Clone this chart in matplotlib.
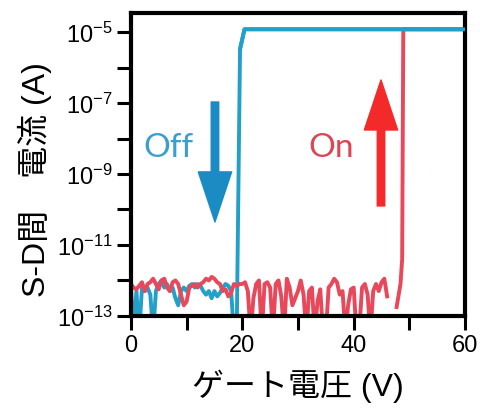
import numpy as np
import matplotlib
matplotlib.use("Agg")
import matplotlib.pyplot as plt
from matplotlib.ticker import FuncFormatter

# gate voltage steps (V) and log10 of S-D current (A)
v_red = [0.0, 0.5, 1.0, 1.5, 2.0, 2.5, 3.0, 3.5, 4.0, 4.5, 5.0, 5.5, 6.0, 6.5, 7.0, 7.5,
         8.0, 8.5, 9.0, 9.5, 10.0, 10.5, 11.0, 11.5, 12.0, 12.5, 13.0, 13.5, 14.0, 14.5,
         15.0, 15.5, 16.0, 16.5, 17.0, 17.5, 18.0, 18.5, 19.0, 19.5, 20.0, 20.5, 21.0,
         21.5, 22.0, 22.5, 23.0, 23.5, 24.0, 24.5, 25.0, 25.5, 26.0, 26.5, 27.0, 27.5,
         28.0, 28.5, 29.0, 29.5, 30.0, 30.5, 31.0, 31.5, 32.0, 32.5, 33.0, 33.5, 34.0,
         34.5, 35.0, 35.5, 36.0, 36.5, 37.0, 37.5, 38.0, 38.5, 39.0, 39.5, 40.0, 40.5,
         41.0, 41.5, 42.0, 42.5, 43.0, 43.5, 44.0, 44.5, 45.0, 45.5, 46.0]
log_i_red = [-12.10, -12.20, -12.25, -12.15, -12.05, -12.30, -12.10, -12.05, -11.95, -12.10,
             -12.25, -12.00, -11.95, -12.20, -12.30, -12.05, -12.00, -12.10, -12.40, -12.70,
             -12.60, -12.20, -12.15, -12.10, -12.20, -12.10, -12.05, -11.95, -12.00, -11.90,
             -11.95, -12.05, -12.10, -12.30, -12.25, -12.45, -12.35, -12.10, -12.15, -12.10,
             -12.10, -12.05, -12.30, -13.50, -12.50, -12.10, -12.00, -13.50, -12.10, -12.05,
             -12.20, -13.50, -12.10, -12.00, -12.45, -13.50, -11.95, -12.20, -12.70, -12.50,
             -12.30, -12.00, -12.40, -13.50, -12.30, -12.20, -13.50, -12.60, -12.25, -13.50,
             -13.50, -12.20, -12.10, -11.95, -12.05, -12.40, -12.30, -13.50, -12.70, -12.25,
             -12.20, -13.50, -13.40, -12.20, -12.10, -12.40, -13.50, -12.30, -12.10, -12.30,
             -12.05, -11.95, -12.45]
v_red_on = [47.7, 48.4, 48.7, 48.9, 60.0]
log_i_red_on = [-12.75, -12.10, -11.40, -4.92, -4.92]

v_blue = [0.0, 0.5, 1.0, 1.5, 2.0, 2.5, 3.0, 3.5, 4.0, 4.5, 5.0, 5.5, 6.0, 6.5, 7.0, 7.5,
          8.0, 8.5, 9.0, 9.5, 10.0, 10.5, 11.0, 11.5, 12.0, 12.5, 13.0, 13.5, 14.0, 14.5,
          15.0, 15.5, 16.0, 16.5, 17.0, 17.5, 18.0, 18.5, 19.0, 19.6, 20.4, 60.0]
log_i_blue = [-12.10, -13.50, -12.30, -13.50, -12.20, -12.30, -12.20, -12.40, -13.50, -12.30,
              -12.10, -12.00, -12.20, -12.10, -12.30, -12.20, -12.50, -12.70, -12.30, -12.20,
              -12.30, -12.15, -12.10, -12.20, -12.10, -12.15, -12.30, -12.40, -12.30, -12.50,
              -12.30, -12.45, -12.35, -12.20, -12.10, -12.15, -12.30, -13.50, -13.50, -5.48,
              -4.92, -4.92]

xticks_major = [0, 20, 40, 60]
xticks_minor = [10, 30, 50]
yexp_major = [-13, -11, -9, -7, -5]
yexp_minor = [-12, -10, -8, -6]

RED = "#e8485a"
BLUE = "#22a0c8"
LATIN = ["Liberation Sans", "Noto Sans CJK JP"]

plt.rcParams["font.family"] = LATIN
plt.rcParams["mathtext.default"] = "regular"

fig = plt.figure(figsize=(4.81, 4.10), dpi=100)
ax = fig.add_axes([0.272, 0.227, 0.695, 0.739])

ax.plot(v_red, 10.0 ** np.array(log_i_red), color=RED, lw=2.8, zorder=2)
ax.plot(v_red_on, 10.0 ** np.array(log_i_red_on), color=RED, lw=2.8, zorder=2)
ax.plot(v_blue, 10.0 ** np.array(log_i_blue), color=BLUE, lw=2.8, zorder=1)
# top of the blue sweep sits over the red one
ax.plot(v_blue[-3:], 10.0 ** np.array(log_i_blue[-3:]), color=BLUE, lw=2.8, zorder=3)

ax.set_yscale("log")
ax.set_xlim(0, 60)
ax.set_ylim(1e-13, 10 ** -4.46)

ax.set_xticks(xticks_major)
ax.set_xticks(xticks_minor, minor=True)
ax.set_yticks([10.0 ** e for e in yexp_major])
ax.set_yticks([10.0 ** e for e in yexp_minor], minor=True)
ax.yaxis.set_major_formatter(FuncFormatter(lambda y, p: r"$10^{%d}$" % round(np.log10(y))))
ax.yaxis.set_minor_formatter(FuncFormatter(lambda y, p: ""))

ax.tick_params(which="both", direction="out", length=10, width=2.2, labelsize=17, pad=3)
for s in ax.spines.values():
    s.set_linewidth(3)

# arrows + labels
arrow_style = "simple,head_length=1.2,head_width=0.8,tail_width=0.18"
ax.annotate("", xy=(15.1, 10 ** -10.35), xytext=(15.1, 10 ** -6.97),
            arrowprops=dict(arrowstyle=arrow_style, color="#1b8bc4", mutation_scale=30,
                            shrinkA=0, shrinkB=0))
ax.annotate("", xy=(44.9, 10 ** -6.35), xytext=(44.9, 10 ** -9.9),
            arrowprops=dict(arrowstyle=arrow_style, color="#f42a2a", mutation_scale=30,
                            shrinkA=0, shrinkB=0))
ax.text(6.7, 10 ** -8.25, "Off", color="#3a9fcc", fontsize=24, family=["Lato", "DejaVu Sans"],
        ha="center", va="center")
ax.text(35.9, 10 ** -8.25, "On", color="#dc4652", fontsize=24, family=["Lato", "DejaVu Sans"],
        ha="center", va="center")

ax.set_xlabel("ゲート電圧 (V)", fontsize=23, labelpad=9)
ax.set_ylabel("S-D間　電流 (A)", fontsize=23)
ax.yaxis.set_label_coords(-0.235, 0.453)

fig.savefig("out.png", dpi=100)
